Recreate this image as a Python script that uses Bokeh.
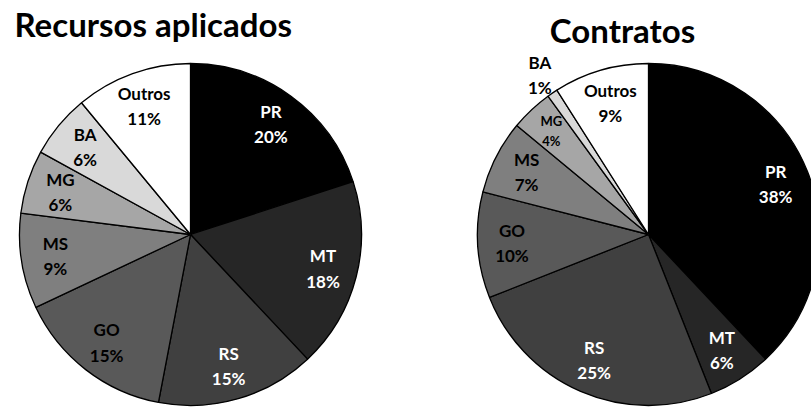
import math
from bokeh.plotting import figure
from bokeh.models import ColumnDataSource, Range1d
from bokeh.core.properties import value
from bokeh.embed import file_html
from bokeh.resources import INLINE

# ---- data ----
states = ["PR", "MT", "RS", "GO", "MS", "MG", "BA", "Outros"]
recursos_pct = [20, 18, 15, 15, 9, 6, 6, 11]
contratos_pct = [38, 6, 25, 10, 7, 4, 1, 9]
titles = ["Recursos aplicados", "Contratos"]

# ---- style ----
fills = ["#000000", "#262626", "#404040", "#595959", "#7f7f7f", "#a6a6a6", "#d9d9d9", "#ffffff"]
label_colors = ["white", "white", "white", "black", "black", "black", "black", "black"]
FONT = "Lato"
W, H = 811, 408
PAGE_H = 408  # data y = PAGE_H - page y

p = figure(width=W, height=H, output_backend="svg", toolbar_location=None,
           x_range=Range1d(0, W), y_range=Range1d(PAGE_H - H, PAGE_H),
           min_border=0)
p.axis.visible = False
p.grid.visible = False
p.outline_line_color = None
p.background_fill_color = "white"
p.border_fill_color = "white"


def draw_pie(values, cx, cy_page, r, title, tx, ty_page, talign):
    total = float(sum(values))
    cy = PAGE_H - cy_page
    starts, ends = [], []
    lx, ly, txt, tcol, tsize = [], [], [], [], []
    cum = 0.0
    for i, v in enumerate(values):
        f0 = cum / total
        cum += v
        f1 = cum / total
        # clockwise from 12 o'clock
        starts.append(math.pi / 2 - 2 * math.pi * f1)
        ends.append(math.pi / 2 - 2 * math.pi * f0)
        mid = 2 * math.pi * (f0 + f1) / 2
        frac = v / total
        rr = 0.8 * r
        col = label_colors[i]
        size = "17px"
        if frac < 0.02:
            rr = 1.13 * r
            col = "black"
        elif frac < 0.05:
            size = "13px"
            rr = 0.83 * r
        lx.append(cx + rr * math.sin(mid))
        ly.append(cy + rr * math.cos(mid))
        txt.append(f"{states[i]}\n{v}%")
        tcol.append(col)
        tsize.append(size)
    src = ColumnDataSource(dict(x=[cx] * len(values), y=[cy] * len(values),
                                start=starts, end=ends, fill=fills))
    p.wedge(x="x", y="y", radius=r, start_angle="start", end_angle="end",
            direction="anticlock", fill_color="fill", line_color="black",
            line_width=1.3, source=src)
    lsrc = ColumnDataSource(dict(x=lx, y=ly, t=txt, c=tcol, s=tsize))
    p.text(x="x", y="y", text="t", text_color="c", text_font_size="s",
           text_font=value(FONT), text_font_style="bold", text_align="center",
           text_baseline="middle", text_line_height=1.2, source=lsrc)
    p.text(x=[tx], y=[PAGE_H - ty_page], text=[title], text_font=value(FONT),
           text_font_style="bold", text_font_size="33px", text_align=talign,
           text_baseline="middle", text_color="black")


draw_pie(recursos_pct, 190, 234, 171, titles[0], 14, 23, "left")
draw_pie(contratos_pct, 648, 234, 171, titles[1], 622, 29, "center")

open("out.html", "w").write(file_html(p, INLINE))
